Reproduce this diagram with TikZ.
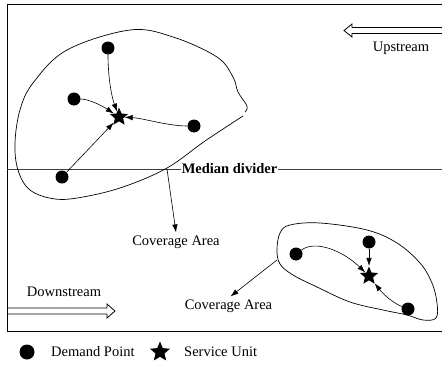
\documentclass[tikz,border=0pt]{standalone}
\usepackage{fontspec}
\setmainfont{Liberation Serif}
\usetikzlibrary{shapes.geometric,arrows.meta}
\begin{document}
\begin{tikzpicture}[x=1pt,y=-1pt,
  dot/.style={circle,fill=black,inner sep=0pt,minimum size=13pt},
  bigdot/.style={circle,fill=black,inner sep=0pt,minimum size=15pt},
  sstar/.style={star,star points=5,star point ratio=2.2,fill=black,inner sep=0pt,minimum size=19pt},
  lab/.style={font=\fontsize{14.5}{17}\selectfont,inner sep=1pt},
  boldlab/.style={font=\fontsize{14.5}{17}\selectfont\bfseries,inner sep=1pt},
  flow/.style={-{Latex[length=8pt,width=5.5pt]},line width=0.6pt},
  outline/.style={line width=0.7pt},
  hollow/.style={line width=0.8pt},
  frame/.style={line width=1pt}
]
\useasboundingbox (0,0) rectangle (442,372);
% frame
\draw[frame] (460,4) -- (7,4) -- (7,331) -- (460,331);
% median divider
\node[boldlab] (md) at (229.5,169) {Median divider};
\draw[line width=0.9pt,black!75] (7,169) -- (md.west);
\draw[line width=0.9pt,black!75] (md.east) -- (460,169);
% flow direction arrows
\draw[hollow] (460,27.5) -- (352,27.5) -- (352,24) -- (344,30.5) -- (352,37) -- (352,33.5) -- (460,33.5);
\node[lab] (up) at (401,48) {Upstream};
\draw[hollow] (7,308) -- (107,308) -- (107,304) -- (115,311) -- (107,318) -- (107,314) -- (7,314);
\node[lab] (down) at (64,292) {Downstream};
% big coverage area
\draw[outline] plot[smooth,tension=0.6] coordinates {(243,116) (205,141) (167,168) (123,187) (83,197) (55,199) (30,190) (18,170) (15,143) (20,110) (33,83) (67,50) (130,30) (173,37) (217,57) (233,77) (238,92) (247,106) (245,112)};
% small coverage area
\draw[outline] plot[smooth cycle,tension=0.6] coordinates {(277,250) (280,233) (290,225) (320,223) (367,230) (397,243) (420,263) (432,283) (437,303) (436,318) (423,320) (407,315) (383,310) (350,302) (317,287) (293,275) (280,264)};
% big area points
\node[sstar] (s1) at (119,117) {};
\node[dot] (d1) at (108,48) {};
\node[dot] (d2) at (74,99) {};
\node[dot] (d3) at (194,126) {};
\node[dot] (d4) at (62,177) {};
\draw[flow] (d1) .. controls (108,75) and (111,95) .. (s1);
\draw[flow] (d2) .. controls (88,99) and (101,105) .. (s1);
\draw[flow] (d3) .. controls (168,126) and (142,118) .. (s1);
\draw[flow] (d4) -- (s1);
% small area points
\node[sstar] (s2) at (369,276) {};
\node[dot] (e1) at (296,254) {};
\node[dot] (e2) at (369,242) {};
\node[dot] (e3) at (408,309) {};
\draw[flow] (e1) .. controls (315,240) and (342,250) .. (s2);
\draw[flow] (e2) -- (s2);
\draw[flow] (e3) .. controls (393,303) and (383,294) .. (s2);
% coverage labels
\coordinate (c1) at (167,169);
\node[lab] (cov1) at (176,242) {Coverage Area};
\draw[flow] (c1) -- ([yshift=2pt]cov1.north);
\coordinate (c2) at (277,260);
\node[lab] (cov2) at (228.5,306) {Coverage Area};
\draw[flow] (c2) -- ([xshift=2pt,yshift=2pt]cov2.north);
% legend
\node[bigdot] (ld) at (27,352) {};
\node[lab,anchor=west] (ldt) at (50,352) {Demand Point};
\node[sstar,minimum size=21pt] (ls) at (160,352) {};
\node[lab,anchor=west] (lst) at (183,352) {Service Unit};
\end{tikzpicture}
\end{document}
